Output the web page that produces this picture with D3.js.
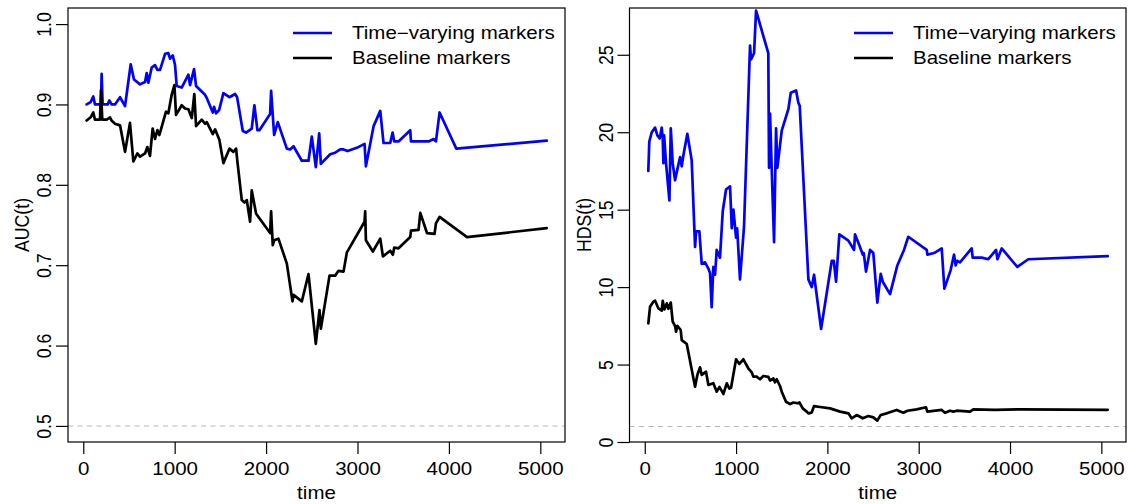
<!DOCTYPE html>
<html><head><meta charset="utf-8">
<script src="https://cdn.jsdelivr.net/npm/d3@7/dist/d3.min.js"></script>
<style>body{margin:0;background:#fff}svg{display:block}text{font-family:"Liberation Sans",Arial,Helvetica,sans-serif;fill:#000}</style>
</head><body><svg id="c" width="1128" height="504"></svg>
<script>
// ---- data ----
const xTicks = [0, 1000, 2000, 3000, 4000, 5000];
const aucTicks = [0.5, 0.6, 0.7, 0.8, 0.9, 1.0];
const hdsTicks = [0, 5, 10, 15, 20, 25];
const legendLabels = ["Time\u2212varying markers", "Baseline markers"];
const aucRef = 0.5, hdsRef = 1;

const aucTvTime = [37,81,110,128,194,201,212,267,285,310,347,402,457,519,555,621,676,694,712,749,785,811,840,895,931,949,979,1004,1022,1077,1150,1168,1212,1234,1332,1351,1417,1431,1453,1486,1533,1599,1661,1683,1745,1781,1843,1872,1905,1927,2044,2055,2088,2128,2227,2263,2300,2391,2464,2500,2544,2581,2599,2701,2756,2811,2847,2891,2993,3077,3092,3176,3249,3285,3358,3384,3402,3449,3577,3585,3705,3778,3832,3858,3898,4081,5070];
const aucTv = [0.900,0.903,0.910,0.900,0.900,0.938,0.900,0.900,0.905,0.900,0.900,0.909,0.898,0.950,0.931,0.925,0.928,0.939,0.927,0.946,0.949,0.943,0.943,0.963,0.964,0.957,0.961,0.949,0.923,0.921,0.937,0.924,0.944,0.923,0.912,0.908,0.890,0.897,0.889,0.893,0.914,0.909,0.913,0.909,0.867,0.865,0.870,0.899,0.868,0.868,0.888,0.917,0.862,0.878,0.845,0.844,0.848,0.830,0.830,0.860,0.822,0.864,0.826,0.838,0.840,0.844,0.844,0.842,0.846,0.851,0.823,0.873,0.892,0.852,0.852,0.865,0.854,0.854,0.868,0.854,0.854,0.854,0.857,0.854,0.890,0.845,0.855];

const aucBlTime = [37,81,110,128,183,194,208,256,292,310,347,402,457,511,548,591,621,676,701,730,759,785,811,833,858,905,931,967,997,1015,1077,1113,1150,1187,1215,1234,1296,1332,1351,1417,1442,1489,1533,1599,1642,1672,1686,1734,1763,1789,1825,1843,1891,2044,2055,2073,2088,2135,2227,2289,2300,2391,2464,2544,2584,2599,2694,2756,2792,2847,2884,3077,3084,3092,3168,3249,3278,3358,3387,3402,3449,3577,3585,3668,3687,3760,3843,3858,3898,4198,5070];
const aucBl = [0.880,0.884,0.890,0.881,0.881,0.918,0.881,0.881,0.884,0.880,0.876,0.874,0.841,0.877,0.829,0.839,0.835,0.839,0.847,0.836,0.870,0.857,0.868,0.862,0.872,0.891,0.889,0.912,0.924,0.887,0.899,0.895,0.894,0.883,0.913,0.873,0.881,0.876,0.878,0.863,0.869,0.856,0.827,0.845,0.841,0.845,0.829,0.781,0.778,0.781,0.754,0.793,0.764,0.740,0.767,0.725,0.731,0.733,0.702,0.655,0.663,0.655,0.689,0.602,0.644,0.621,0.687,0.687,0.693,0.692,0.716,0.754,0.767,0.731,0.717,0.733,0.711,0.718,0.713,0.722,0.721,0.735,0.743,0.744,0.765,0.740,0.739,0.752,0.760,0.735,0.746];

const hdsTvTime = [39,50,77,113,138,164,186,197,204,212,233,270,285,306,332,357,387,405,423,466,514,551,562,598,624,660,697,715,733,751,770,788,824,854,890,934,953,971,1000,1012,1043,1087,1153,1164,1197,1219,1353,1361,1372,1390,1416,1438,1452,1500,1573,1599,1657,1682,1697,1792,1829,1854,1931,2048,2070,2095,2131,2230,2292,2303,2350,2387,2398,2423,2467,2503,2547,2584,2606,2686,2766,2839,2886,3088,3095,3168,3252,3281,3350,3387,3405,3420,3452,3580,3591,3690,3762,3847,3862,3909,4080,4200,5070];
const hdsTv = [17.5,19.4,20.0,20.3,19.8,19.6,20.3,19.6,18.0,19.8,18.0,15.6,20.25,18.0,16.9,17.6,18.4,17.8,18.5,19.9,18.2,12.6,13.6,13.6,11.5,11.6,11.2,10.9,8.7,11.3,10.8,12.4,11.9,14.9,16.3,16.5,13.8,15.0,13.2,13.8,10.5,13.9,25.6,24.7,25.1,27.85,25.1,17.7,21.2,17.7,12.9,20.25,17.7,20.1,21.5,22.55,22.7,21.9,21.7,10.5,10.0,10.8,7.3,11.7,11.7,10.35,13.4,13.0,12.4,13.4,12.7,12.1,12.2,11.0,12.4,12.2,9.0,10.85,10.35,9.55,11.4,12.4,13.25,12.4,12.1,12.2,12.5,9.9,11.1,12.1,11.4,11.7,11.6,12.5,11.9,11.9,11.8,12.4,11.8,12.5,11.3,11.8,12.0];

const hdsBlTime = [39,58,94,113,149,186,197,215,241,259,285,306,332,343,357,394,405,460,551,576,605,624,671,697,751,788,818,843,861,898,927,945,1000,1036,1080,1134,1171,1189,1225,1262,1299,1353,1372,1409,1427,1445,1482,1500,1547,1591,1628,1672,1694,1730,1774,1792,1828,1854,1920,2029,2139,2230,2266,2321,2387,2449,2503,2547,2584,2650,2759,2832,2876,2978,3080,3095,3252,3288,3343,3380,3416,3562,3598,3836,4109,5070];
const hdsBl = [7.66,8.73,9.06,9.12,8.63,8.48,9.12,8.56,8.95,8.6,9.0,7.77,7.49,7.12,7.5,7.23,6.58,6.33,3.57,4.33,4.82,4.33,4.54,3.68,3.8,3.25,3.55,3.3,3.1,3.79,3.45,3.5,5.34,5.04,5.34,4.76,4.5,4.22,4.22,4.05,4.26,4.2,3.97,4.1,3.85,4.05,3.6,3.25,2.6,2.45,2.55,2.5,2.55,2.17,1.96,1.85,1.9,2.32,2.26,2.17,1.96,1.85,1.53,1.74,1.53,1.68,1.59,1.38,1.74,1.85,2.07,1.89,2.02,2.11,2.24,1.96,2.07,1.89,2.02,1.96,2.02,1.96,2.11,2.07,2.11,2.08];

// ---- drawing ----
const svg = d3.select("#c");
svg.append("rect").attr("width",1128).attr("height",504).attr("fill","#fff");
const SX = 1.16, FS = 17.7;
const xDomain = [-167, 5270];

function txt(g, x, y, s, anchor, rot) {
  return g.append("text")
    .attr("transform", `translate(${x},${y}) scale(${SX},1)` + (rot ? " rotate(-90)" : ""))
    .attr("text-anchor", anchor).attr("font-size", FS).text(s);
}

function panel(opts) {
  const {left, right, top, bottom, yDomain, yTicks, yFmt, yTitle, ref, series} = opts;
  const g = svg.append("g");
  const x = d3.scaleLinear().domain(xDomain).range([left, right]);
  const y = d3.scaleLinear().domain(yDomain).range([bottom, top]);

  // reference line
  g.append("line").attr("x1", left).attr("x2", right).attr("y1", y(ref)).attr("y2", y(ref))
    .attr("stroke", "#b8b8b8").attr("stroke-width", 1.1).attr("stroke-dasharray", "5,4.5");

  // series lines
  const line = d3.line().x(d => x(d[0])).y(d => y(d[1]));
  series.forEach(s => {
    g.append("path").datum(d3.zip(s.t, s.v)).attr("d", line)
      .attr("fill", "none").attr("stroke", s.color).attr("stroke-width", 2.7)
      .attr("stroke-linejoin", "round").attr("stroke-linecap", "round");
  });

  // box
  g.append("rect").attr("x", left).attr("y", top).attr("width", right - left).attr("height", bottom - top)
    .attr("fill", "none").attr("stroke", "#000").attr("stroke-width", 1.2);

  // x axis
  const xa = g.append("g").attr("transform", `translate(0,${bottom})`)
    .call(d3.axisBottom(x).tickValues(xTicks).tickSize(12).tickFormat(d3.format("d")));
  xa.select(".domain").remove();
  xa.selectAll("line").attr("stroke-width", 1.2);
  xa.selectAll("text").attr("y", null).attr("dy", null).attr("fill", "#000")
    .attr("transform", `translate(0,33) scale(${SX},1)`).attr("font-size", FS).attr("font-family", null);

  // y axis
  const ya = g.append("g").attr("transform", `translate(${left},0)`)
    .call(d3.axisLeft(y).tickValues(yTicks).tickSize(12).tickFormat(yFmt));
  ya.select(".domain").remove();
  ya.selectAll("line").attr("stroke-width", 1.2);
  ya.selectAll("text").attr("x", null).attr("dy", null).attr("fill", "#000").attr("text-anchor", "middle")
    .attr("transform", `translate(-17,0) scale(${SX},1) rotate(-90)`).attr("font-size", FS).attr("font-family", null);

  // titles
  txt(g, (left + right) / 2, 499, "time", "middle", false);
  txt(g, left - 39, (top + bottom) / 2, yTitle, "middle", true);

  // legend
  series.forEach((s, i) => {
    const ly = 33 + i * 25;
    g.append("line").attr("x1", right - 272).attr("x2", right - 233).attr("y1", ly).attr("y2", ly)
      .attr("stroke", s.color).attr("stroke-width", 2.7);
    txt(g, right - 213, ly + 6.4, s.label, "start", false);
  });
}

panel({left: 68, right: 565, top: 8, bottom: 442, yDomain: [0.48, 1.02], yTicks: aucTicks,
  yFmt: d3.format(".1f"), yTitle: "AUC(t)", ref: aucRef,
  series: [{t: aucTvTime, v: aucTv, color: "#0000ff", label: legendLabels[0]},
           {t: aucBlTime, v: aucBl, color: "#000000", label: legendLabels[1]}]});

panel({left: 629.5, right: 1126, top: 8, bottom: 442, yDomain: [0, 28.02], yTicks: hdsTicks,
  yFmt: d3.format("d"), yTitle: "HDS(t)", ref: hdsRef,
  series: [{t: hdsTvTime, v: hdsTv, color: "#0000ff", label: legendLabels[0]},
           {t: hdsBlTime, v: hdsBl, color: "#000000", label: legendLabels[1]}]});
</script></body></html>
